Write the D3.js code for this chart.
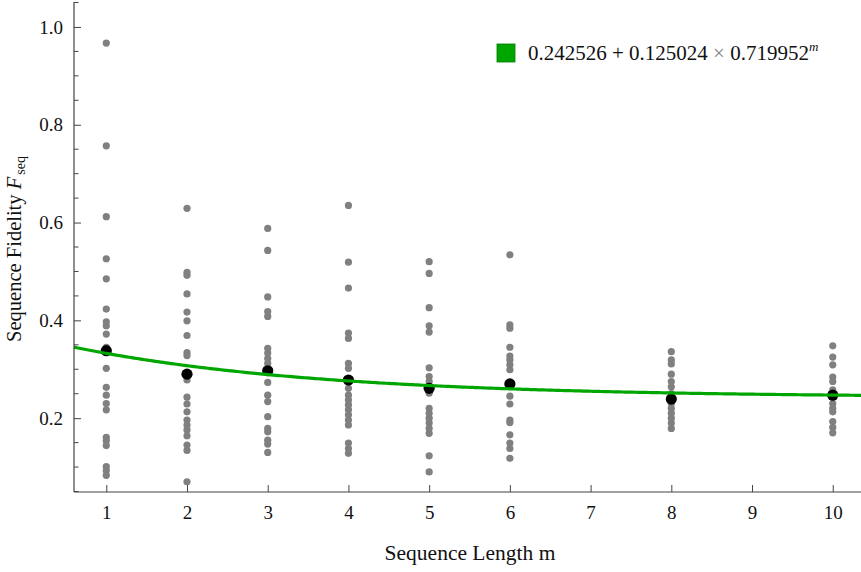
<!DOCTYPE html>
<html><head><meta charset="utf-8">
<script src="https://cdn.jsdelivr.net/npm/d3@7"></script>
<style>body{margin:0;background:#fff}svg{display:block;font-family:"Liberation Serif","Times New Roman",serif}</style>
</head><body>
<svg id="chart" width="861" height="572"></svg>
<script>
// ---------- data ----------
const lengths = [1, 2, 3, 4, 5, 6, 8, 10];
const samples1 = [0.967,0.757,0.612,0.526,0.485,0.423,0.397,0.389,0.372,0.345,0.302,0.263,0.247,0.230,0.217,0.161,0.154,0.144,0.101,0.093,0.083];
const samples2 = [0.629,0.498,0.492,0.454,0.417,0.399,0.369,0.334,0.328,0.278,0.243,0.229,0.213,0.196,0.186,0.176,0.164,0.145,0.134,0.070];
const samples3 = [0.588,0.543,0.448,0.418,0.408,0.343,0.333,0.322,0.312,0.273,0.247,0.234,0.203,0.179,0.172,0.155,0.147,0.130];
const samples4 = [0.635,0.519,0.466,0.374,0.363,0.312,0.302,0.261,0.247,0.237,0.227,0.217,0.207,0.196,0.186,0.149,0.138,0.128];
const samples5 = [0.520,0.496,0.426,0.389,0.376,0.303,0.285,0.275,0.251,0.220,0.210,0.200,0.190,0.179,0.169,0.123,0.090];
const samples6 = [0.534,0.391,0.384,0.345,0.327,0.319,0.309,0.299,0.245,0.229,0.196,0.191,0.166,0.149,0.138,0.118];
const samples8 = [0.336,0.319,0.311,0.290,0.275,0.264,0.250,0.230,0.220,0.210,0.200,0.190,0.179];
const samples10 = [0.348,0.325,0.309,0.284,0.275,0.258,0.230,0.220,0.213,0.193,0.181,0.170];
const samplesByLength = [samples1, samples2, samples3, samples4, samples5, samples6, samples8, samples10];
const means = [0.338, 0.290, 0.297, 0.278, 0.261, 0.270, 0.239, 0.247];
const fitParams = [0.242526, 0.125024, 0.719952]; // A + B * p^m
const xTicks = [1,2,3,4,5,6,7,8,9,10];
const yMajorTicks = [0.2, 0.4, 0.6, 0.8, 1.0];
const yMinorTicks = [0.05,0.1,0.15,0.25,0.3,0.35,0.45,0.5,0.55,0.65,0.7,0.75,0.85,0.9,0.95,1.05];

// ---------- chart ----------
const svg = d3.select("#chart");
const x = d3.scaleLinear().domain([0.6, 10.35]).range([74, 861]);
const y = d3.scaleLinear().domain([0.049, 1.05]).range([492, 2.5]);
const axisColor = "#444";
const serif = "Liberation Serif,Times New Roman,serif";

// fit curve
const fitFn = m => fitParams[0] + fitParams[1] * Math.pow(fitParams[2], m);
const curvePts = d3.range(0, 301).map(i => { const m = 0.6 + (10.35 - 0.6) * i / 300; return [m, fitFn(m)]; });

// points
const pts = [];
lengths.forEach((L, i) => samplesByLength[i].forEach(v => pts.push([L, v])));
svg.append("g").selectAll("circle").data(pts).join("circle")
  .attr("cx", d => x(d[0])).attr("cy", d => y(d[1])).attr("r", 3.6).attr("fill", "#808080");

svg.append("g").selectAll("circle").data(lengths).join("circle")
  .attr("cx", d => x(d)).attr("cy", (d, i) => y(means[i])).attr("r", 5.6).attr("fill", "#000");

svg.append("path").datum(curvePts)
  .attr("d", d3.line().x(d => x(d[0])).y(d => y(d[1])))
  .attr("fill", "none").attr("stroke", "#00a600").attr("stroke-width", 3.2);

// axes
const xAxis = d3.axisBottom(x).tickValues(xTicks).tickSize(-7).tickPadding(14).tickFormat(d3.format("d"));
const gx = svg.append("g").attr("transform", "translate(0,492)").call(xAxis);
gx.select(".domain").remove();
gx.append("line").attr("x1", 74).attr("x2", 861).attr("y1", 0).attr("y2", 0).attr("stroke", axisColor).attr("stroke-width", 1.2);
gx.selectAll(".tick line").attr("stroke", axisColor);
gx.selectAll(".tick text").attr("fill", "#111").attr("font-size", 19).attr("font-family", serif);

const yAxis = d3.axisLeft(y).tickValues(yMajorTicks).tickSize(-7).tickPadding(11).tickFormat(d3.format(".1f"));
const gy = svg.append("g").attr("transform", "translate(74,0)").call(yAxis);
gy.select(".domain").remove();
gy.selectAll(".tick line").attr("stroke", axisColor);
gy.selectAll(".tick text").attr("fill", "#111").attr("font-size", 19).attr("font-family", serif);
gy.append("g").selectAll("line").data(yMinorTicks).join("line")
  .attr("x1", 0).attr("x2", 4.5).attr("y1", d => y(d)).attr("y2", d => y(d)).attr("stroke", axisColor);
gy.append("line").attr("x1", 0).attr("x2", 0).attr("y1", 2).attr("y2", 492).attr("stroke", axisColor).attr("stroke-width", 1.2);

// axis titles
svg.append("text").attr("x", 470).attr("y", 560).attr("text-anchor", "middle")
  .attr("font-size", 21.5).attr("fill", "#111").text("Sequence Length m");

const yt = svg.append("text").attr("transform", "translate(21,249) rotate(-90)").attr("text-anchor", "middle")
  .attr("font-size", 20.5).attr("fill", "#111");
yt.append("tspan").text("Sequence Fidelity ");
yt.append("tspan").attr("font-style", "italic").text("F");
yt.append("tspan").attr("font-size", 14).attr("dy", 4).attr("dx", 2).text("seq");

// legend
svg.append("rect").attr("x", 497).attr("y", 44).attr("width", 18).attr("height", 18)
  .attr("fill", "#00a600").attr("stroke", "#007a00").attr("stroke-width", 0.8);
const lt = svg.append("text").attr("x", 528).attr("y", 59.5).attr("font-size", 21).attr("fill", "#111");
lt.append("tspan").text(fitParams[0].toFixed(6) + " + " + fitParams[1].toFixed(6) + " ");
lt.append("tspan").attr("fill", "#888").text("×");
lt.append("tspan").text(" " + fitParams[2].toFixed(6));
lt.append("tspan").attr("font-style", "italic").attr("font-size", 13).attr("dy", -9).text("m");
</script>
</body></html>
